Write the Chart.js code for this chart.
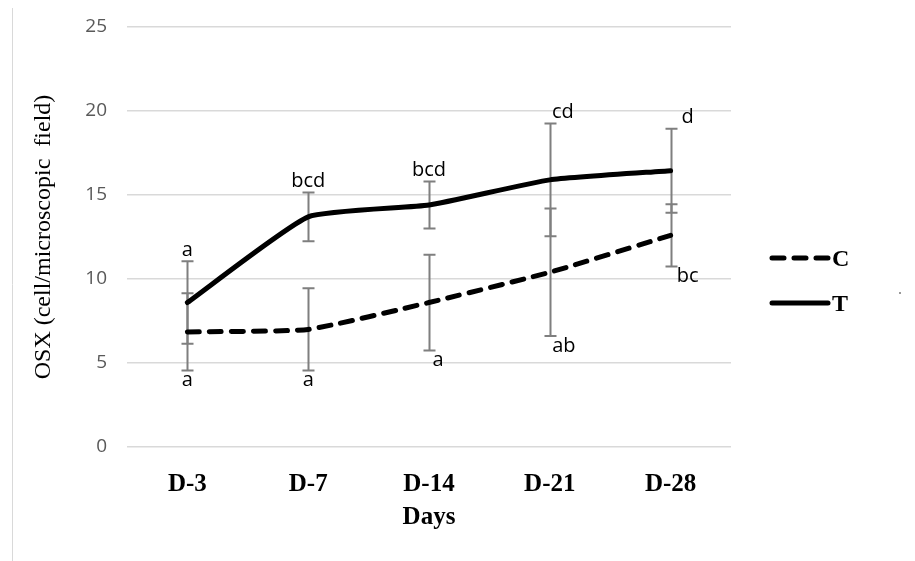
<!DOCTYPE html>
<html>
<head>
<meta charset="utf-8">
<script src="https://cdn.jsdelivr.net/npm/chart.js@4.4.1/dist/chart.umd.min.js"></script>
<style>
  html, body { margin: 0; padding: 0; background: #fff; }
  #wrap { width: 915px; height: 561px; }
</style>
</head>
<body>
<div id="wrap"><canvas id="osxChart" width="915" height="561"></canvas></div>
<script>
// sampling days
const days = ["D-3", "D-7", "D-14", "D-21", "D-28"];

// mean OSX positive cells per field
const controlMean = [6.85, 7.0, 8.6, 10.4, 12.6];
const treatMean = [8.6, 13.7, 14.4, 15.9, 16.45];

// standard deviations
const controlSD = [2.3, 2.45, 2.85, 3.8, 1.85];
const treatSD = [2.45, 1.45, 1.4, 3.35, 2.5];

// significance letters
const controlLetters = ["a", "a", "a", "ab", "bc"];
const treatLetters = ["a", "bcd", "bcd", "cd", "d"];

const yMin = 0, yMax = 25, yStep = 5;

const SERIF = "'Liberation Serif', 'DejaVu Serif', serif";
const SANS = "'Open Sans', 'Noto Sans', sans-serif";

// small sideways nudges for the letters so they clear the bars
const letterNudge = { C: [0, 0, 9, 14, 17], T: [0, 0, 0, 13, 17] };

// error bars behind the lines, letters on top
const errorBars = {
  id: "errorBars",
  beforeDatasetsDraw(chart) {
    const ctx = chart.ctx;
    const y = chart.scales.y;
    ctx.save();
    ctx.strokeStyle = "#7f7f7f";
    ctx.lineWidth = 2;
    chart.data.datasets.forEach((ds, i) => {
      chart.getDatasetMeta(i).data.forEach((pt, j) => {
        const top = y.getPixelForValue(ds.data[j] + ds.sd[j]);
        const bot = y.getPixelForValue(ds.data[j] - ds.sd[j]);
        const x = Math.round(pt.x) + 0.5;
        ctx.beginPath();
        ctx.moveTo(x, top); ctx.lineTo(x, bot);
        ctx.moveTo(x - 6, top); ctx.lineTo(x + 6, top);
        ctx.moveTo(x - 6, bot); ctx.lineTo(x + 6, bot);
        ctx.stroke();
      });
    });
    ctx.restore();
  },
  afterDatasetsDraw(chart) {
    const ctx = chart.ctx;
    const y = chart.scales.y;
    ctx.save();
    ctx.fillStyle = "#000";
    ctx.font = "20px " + SANS;
    ctx.textAlign = "center";
    chart.data.datasets.forEach((ds, i) => {
      const above = ds.label === "T";
      chart.getDatasetMeta(i).data.forEach((pt, j) => {
        const v = above ? ds.data[j] + ds.sd[j] : ds.data[j] - ds.sd[j];
        const py = y.getPixelForValue(v);
        const x = pt.x + letterNudge[ds.label][j];
        if (above) {
          ctx.textBaseline = "bottom";
          ctx.fillText(ds.letters[j], x, py - 1);
        } else {
          ctx.textBaseline = "top";
          ctx.fillText(ds.letters[j], x, py);
        }
      });
    });
    ctx.restore();
  }
};

// legend on the right and the thin frame line on the left
const sideDecor = {
  id: "sideDecor",
  afterDraw(chart) {
    const ctx = chart.ctx;
    ctx.save();
    ctx.strokeStyle = "#d9d9d9";
    ctx.lineWidth = 1;
    ctx.beginPath();
    ctx.moveTo(12.5, 8); ctx.lineTo(12.5, 561);
    ctx.stroke();

    ctx.fillStyle = "#999";
    ctx.fillRect(899, 292, 2, 2);

    ctx.strokeStyle = "#000";
    ctx.lineWidth = 5;
    ctx.lineCap = "round";
    ctx.font = "bold 24px " + SERIF;
    ctx.fillStyle = "#000";
    ctx.textBaseline = "middle";
    chart.data.datasets.forEach((ds, i) => {
      const ly = 258 + i * 45;
      ctx.setLineDash(ds.borderDash || []);
      ctx.beginPath();
      ctx.moveTo(772, ly); ctx.lineTo(828, ly);
      ctx.stroke();
      ctx.fillText(ds.label, 832, ly + 2);
    });
    ctx.restore();
  }
};

new Chart(document.getElementById("osxChart"), {
  type: "line",
  data: {
    labels: days,
    datasets: [
      {
        label: "C",
        data: controlMean,
        sd: controlSD,
        letters: controlLetters,
        borderColor: "#000",
        borderWidth: 5,
        borderDash: [12, 10],
        borderCapStyle: "round",
        tension: 0.15,
        pointRadius: 0
      },
      {
        label: "T",
        data: treatMean,
        sd: treatSD,
        letters: treatLetters,
        borderColor: "#000",
        borderWidth: 5,
        borderCapStyle: "round",
        tension: 0.15,
        pointRadius: 0
      }
    ]
  },
  options: {
    responsive: false,
    animation: false,
    layout: { padding: { left: 20, right: 184, top: 27, bottom: 20 } },
    plugins: {
      legend: { display: false },
      tooltip: { enabled: false }
    },
    scales: {
      x: {
        offset: true,
        grid: { display: false, drawTicks: false },
        border: { display: false },
        ticks: {
          color: "#000",
          padding: 23,
          font: { family: SERIF, size: 25, weight: "bold" }
        },
        title: {
          display: true,
          text: "Days",
          color: "#000",
          padding: { top: 0, bottom: 8 },
          font: { family: SERIF, size: 25, weight: "bold" }
        },
        afterFit(scale) { scale.height = 94; }
      },
      y: {
        min: yMin,
        max: yMax,
        grid: {
          color: "#d9d9d9",
          lineWidth: 1.5,
          drawTicks: true,
          tickLength: 18,
          tickColor: "rgba(0,0,0,0)"
        },
        border: { display: false },
        ticks: {
          stepSize: yStep,
          color: "#595959",
          padding: 2,
          font: { family: SANS, size: 19 }
        },
        title: {
          display: true,
          text: "OSX (cell/microscopic  field)",
          color: "#000",
          padding: { top: 9, bottom: 0 },
          font: { family: SERIF, size: 24 }
        },
        afterFit(scale) { scale.width = 107; }
      }
    }
  },
  plugins: [errorBars, sideDecor]
});
</script>
</body>
</html>
